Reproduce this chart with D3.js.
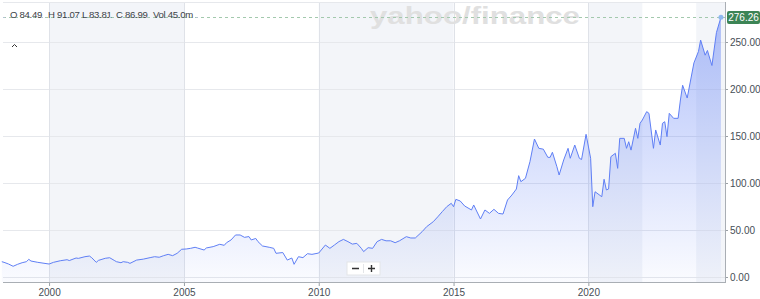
<!DOCTYPE html>
<html>
<head>
<meta charset="utf-8">
<script src="https://cdn.jsdelivr.net/npm/d3@7/dist/d3.min.js"></script>
<style>
  html, body { margin: 0; padding: 0; background: #fff; }
  #chart svg { display: block; font-family: "Liberation Sans", Arial, sans-serif; }
  .tick text { fill: #464e56; font-size: 10px; }
  .tick line { stroke: #9aa0a6; }
</style>
</head>
<body>
<div id="chart"></div>
<script>
'use strict';

// monthly closes
var months = [
  "1998-04", "1998-05", "1998-07", "1998-09", "1998-11", "1999-01", "1999-03", "1999-04", "1999-05", "1999-08",
  "2000-01", "2000-03", "2000-06", "2000-09", "2000-10", "2001-01", "2001-02", "2001-05", "2001-07", "2001-08",
  "2001-10", "2001-11", "2002-02", "2002-04", "2002-06", "2002-07", "2002-09", "2002-10", "2002-12", "2003-01",
  "2003-04", "2003-07", "2003-10", "2003-12", "2004-02", "2004-04", "2004-06", "2004-08", "2004-10", "2004-12",
  "2005-02", "2005-04", "2005-06", "2005-07", "2005-10", "2005-11", "2006-02", "2006-05", "2006-07", "2006-08",
  "2006-10", "2006-12", "2007-02", "2007-04", "2007-06", "2007-07", "2007-09", "2007-10", "2007-12", "2008-03",
  "2008-05", "2008-06", "2008-09", "2008-11", "2009-01", "2009-02", "2009-04", "2009-06", "2009-08", "2009-10",
  "2010-01", "2010-04", "2010-06", "2010-08", "2010-10", "2010-12", "2011-02", "2011-04", "2011-06", "2011-08",
  "2011-09", "2011-11", "2012-01", "2012-03", "2012-05", "2012-07", "2012-09", "2012-11", "2013-01", "2013-04",
  "2013-06", "2013-08", "2013-11", "2014-01", "2014-04", "2014-06", "2014-08", "2014-10", "2014-12", "2015-01",
  "2015-02", "2015-04", "2015-06", "2015-09", "2015-10", "2016-01", "2016-03", "2016-05", "2016-07", "2016-09",
  "2016-11", "2017-01", "2017-03", "2017-05", "2017-06", "2017-07", "2017-09", "2017-11", "2018-01", "2018-03",
  "2018-05", "2018-07", "2018-08", "2018-09", "2018-11", "2018-12", "2019-02", "2019-04", "2019-05", "2019-07",
  "2019-09", "2019-10", "2019-12", "2020-02", "2020-03", "2020-04", "2020-07", "2020-08", "2020-09", "2020-10",
  "2020-11", "2021-01", "2021-02", "2021-03", "2021-05", "2021-06", "2021-07", "2021-08", "2021-10", "2021-11",
  "2021-12", "2022-01", "2022-03", "2022-04", "2022-06", "2022-07", "2022-09", "2022-10", "2022-11", "2022-12",
  "2023-01", "2023-03", "2023-05", "2023-06", "2023-07", "2023-09", "2023-12", "2024-02", "2024-03", "2024-05",
  "2024-06", "2024-07", "2024-08", "2024-10", "2024-12"
];
var closes = [
  16.3, 15.6, 13.8, 11.4, 13.5, 15.2, 16.3, 18.8, 17.0, 15.6,
  13.8, 15.6, 17.3, 18.4, 17.5, 20.2, 19.8, 21.6, 22.3, 20.5,
  15.6, 17.7, 19.9, 20.5, 17.7, 16.3, 15.2, 16.3, 15.6, 14.5,
  18.0, 19.0, 20.6, 21.6, 21.0, 22.7, 24.1, 22.7, 25.2, 29.5,
  29.8, 30.5, 31.6, 30.9, 28.7, 30.9, 32.3, 34.8, 33.7, 36.5,
  39.4, 44.7, 44.7, 42.2, 43.0, 39.4, 41.0, 37.6, 33.0, 31.6,
  30.5, 25.2, 26.0, 18.0, 20.2, 13.5, 21.6, 20.6, 24.8, 24.1,
  25.5, 34.0, 30.5, 34.0, 37.6, 40.0, 37.6, 35.0, 35.8, 30.5,
  27.0, 31.2, 30.5, 37.6, 40.0, 38.5, 38.5, 36.5, 38.6, 42.9,
  41.5, 41.5, 48.2, 53.5, 58.8, 64.0, 69.5, 74.8, 78.4, 74.8,
  82.6, 80.9, 75.5, 71.3, 76.6, 61.7, 71.3, 67.7, 72.0, 67.7,
  67.0, 81.9, 87.2, 93.6, 107.8, 101.4, 105.0, 122.7, 146.8, 136.9,
  136.0, 127.3, 127.3, 132.7, 117.3, 108.5, 124.5, 136.9, 126.3, 140.4,
  126.3, 125.0, 151.8, 126.3, 74.8, 90.7, 85.4, 104.0, 92.6, 93.6,
  128.0, 131.6, 115.6, 147.5, 147.5, 136.9, 143.9, 135.0, 158.2, 147.5,
  163.5, 167.0, 175.9, 174.1, 136.9, 156.4, 140.4, 163.5, 165.2, 149.3,
  174.1, 168.8, 168.8, 188.3, 204.0, 190.4, 227.7, 240.0, 252.0, 236.0,
  241.0, 233.0, 225.0, 260.0, 276.26
];

var lastClose = 276.26;
var yTicks = [0, 50, 100, 150, 200, 250];
var xTicks = ["2000-01", "2005-01", "2010-01", "2015-01", "2020-01"];
var bandStarts = ["2000-01", "2010-01", "2020-01", "2024-01"];
var bandEnds = ["2005-01", "2015-01", "2022-01", "2025-02"];
var legendKeys = ["O", "H", "L", "C", "Vol"];
var legendValues = ["84.49", "91.07", "83.81", "86.99", "45.0m"];

var w = 760;
var h = 299;
var plotLeft = 3;
var plotRight = 725;
var plotTop = 2;
var plotBottom = 282;
var lineColor = "#5f7ff5";
var gridColor = "#e6e8ec";
var bandColor = "#f3f5f9";
var legendX = [10, 48, 82, 116, 153];

var parseMonth = d3.timeParse("%Y-%m");
var data = months.map(function (m, i) {
  return { date: parseMonth(m), close: closes[i] };
});

var x = d3.scaleTime()
  .domain([new Date(1998, 3, 17), new Date(2025, 0, 25)])
  .range([plotLeft, plotRight]);

var y = d3.scaleLinear()
  .domain([0, 250])
  .range([277, 42]);

var svg = d3.select("#chart").append("svg")
  .attr("width", w)
  .attr("height", h);

var defs = svg.append("defs");
var grad = defs.append("linearGradient")
  .attr("id", "areaFill")
  .attr("gradientUnits", "userSpaceOnUse")
  .attr("x1", 0).attr("y1", y(lastClose))
  .attr("x2", 0).attr("y2", plotBottom);
grad.append("stop").attr("offset", "0%").attr("stop-color", lineColor).attr("stop-opacity", 0.48);
grad.append("stop").attr("offset", "100%").attr("stop-color", lineColor).attr("stop-opacity", 0.03);

// shaded year bands
svg.selectAll("rect.band")
  .data(bandStarts)
  .enter()
  .append("rect")
  .attr("class", "band")
  .attr("x", function (d) { return x(parseMonth(d)); })
  .attr("y", plotTop)
  .attr("width", function (d, i) {
    return Math.min(x(parseMonth(bandEnds[i])), plotRight) - x(parseMonth(d));
  })
  .attr("height", plotBottom - plotTop)
  .attr("fill", bandColor);

// grid
svg.selectAll("line.hgrid")
  .data(yTicks)
  .enter()
  .append("line")
  .attr("class", "hgrid")
  .attr("x1", plotLeft).attr("x2", plotRight)
  .attr("y1", function (d) { return Math.round(y(d)) + 0.5; })
  .attr("y2", function (d) { return Math.round(y(d)) + 0.5; })
  .attr("stroke", gridColor);

svg.selectAll("line.vgrid")
  .data(xTicks)
  .enter()
  .append("line")
  .attr("class", "vgrid")
  .attr("x1", function (d) { return Math.round(x(parseMonth(d))) + 0.5; })
  .attr("x2", function (d) { return Math.round(x(parseMonth(d))) + 0.5; })
  .attr("y1", plotTop).attr("y2", plotBottom)
  .attr("stroke", "#dfe2e8");

svg.append("line")
  .attr("x1", plotLeft).attr("x2", plotRight)
  .attr("y1", plotTop + 0.5).attr("y2", plotTop + 0.5)
  .attr("stroke", gridColor);

// watermark
svg.append("text")
  .attr("x", 370)
  .attr("y", 24)
  .attr("textLength", 210)
  .attr("lengthAdjust", "spacingAndGlyphs")
  .attr("font-size", 23)
  .attr("font-weight", 800)
  .attr("fill", "#e0e0e0")
  .text("yahoo/finance");

// area + line
var area = d3.area()
  .x(function (d) { return x(d.date); })
  .y0(plotBottom)
  .y1(function (d) { return y(d.close); });

var line = d3.line()
  .x(function (d) { return x(d.date); })
  .y(function (d) { return y(d.close); });

svg.append("path")
  .datum(data)
  .attr("d", area)
  .attr("fill", "url(#areaFill)");

svg.append("path")
  .datum(data)
  .attr("d", line)
  .attr("fill", "none")
  .attr("stroke", lineColor)
  .attr("stroke-width", 1)
  .attr("stroke-linejoin", "round");

// last price marker
svg.append("line")
  .attr("x1", plotLeft).attr("x2", plotRight)
  .attr("y1", Math.round(y(lastClose)) + 0.5)
  .attr("y2", Math.round(y(lastClose)) + 0.5)
  .attr("stroke", "#a3c9ad")
  .attr("stroke-dasharray", "3,3");

var lastPoint = data[data.length - 1];
svg.append("circle")
  .attr("cx", x(lastPoint.date))
  .attr("cy", y(lastPoint.close))
  .attr("r", 2.5)
  .attr("fill", "#8fb8f0");

var lastLabel = svg.append("g")
  .attr("transform", "translate(727," + (Math.round(y(lastClose)) - 6) + ")");
lastLabel.append("rect")
  .attr("width", 33)
  .attr("height", 13)
  .attr("rx", 2)
  .attr("fill", "#3c8455");
lastLabel.append("text")
  .attr("x", 16.5)
  .attr("y", 10)
  .attr("text-anchor", "middle")
  .attr("font-size", 10)
  .attr("fill", "#fff")
  .text(d3.format(".2f")(lastClose));

// axes
var yAxis = d3.axisRight(y)
  .tickValues(yTicks)
  .tickSize(3)
  .tickPadding(2)
  .tickFormat(d3.format(".2f"));

svg.append("g")
  .attr("class", "y axis")
  .attr("transform", "translate(" + plotRight + ",0)")
  .call(yAxis)
  .call(function (g) { g.select(".domain").remove(); });

var xAxis = d3.axisBottom(x)
  .tickValues(xTicks.map(parseMonth))
  .tickSize(4)
  .tickPadding(3)
  .tickFormat(d3.timeFormat("%Y"));

svg.append("g")
  .attr("class", "x axis")
  .attr("transform", "translate(0," + plotBottom + ")")
  .call(xAxis)
  .call(function (g) { g.select(".domain").remove(); });

svg.append("line")
  .attr("x1", plotRight + 0.5).attr("x2", plotRight + 0.5)
  .attr("y1", plotTop).attr("y2", plotBottom + 0.5)
  .attr("stroke", "#a9aeb4");

svg.append("line")
  .attr("x1", plotLeft).attr("x2", plotRight + 1)
  .attr("y1", plotBottom + 0.5).attr("y2", plotBottom + 0.5)
  .attr("stroke", "#a9aeb4");

// OHLC legend
var legend = svg.append("g").attr("class", "legend");
var item = legend.selectAll("g.item")
  .data(legendKeys)
  .enter()
  .append("g")
  .attr("class", "item")
  .attr("transform", function (d, i) { return "translate(" + legendX[i] + ",18)"; });

item.append("line")
  .attr("x1", -7).attr("x2", -5)
  .attr("y1", -0.5).attr("y2", -0.5)
  .attr("stroke", "#b3c2d1");

item.append("text")
  .attr("font-size", 9.6)
  .attr("letter-spacing", -0.3)
  .attr("fill", "#3c4248")
  .text(function (d, i) { return d + " " + legendValues[i]; });

legend.append("line")
  .attr("x1", 196).attr("x2", 198)
  .attr("y1", 17.5).attr("y2", 17.5)
  .attr("stroke", "#b3c2d1");

// collapse caret
svg.append("path")
  .attr("d", "M12,47 L14.5,44.5 L17,47")
  .attr("fill", "none")
  .attr("stroke", "#333")
  .attr("stroke-width", 1);

// zoom buttons
var zoomCtl = svg.append("g").attr("transform", "translate(347,262)");
zoomCtl.append("rect")
  .attr("width", 33).attr("height", 13)
  .attr("fill", "#fff")
  .attr("stroke", "#e3e5e8");
zoomCtl.append("line")
  .attr("x1", 16.5).attr("x2", 16.5)
  .attr("y1", 2).attr("y2", 11)
  .attr("stroke", "#e3e5e8");
zoomCtl.append("path")
  .attr("d", "M5,6.5 L12,6.5 M21,6.5 L28,6.5 M24.5,3 L24.5,10")
  .attr("stroke", "#333")
  .attr("stroke-width", 1.4);
</script>
</body>
</html>
